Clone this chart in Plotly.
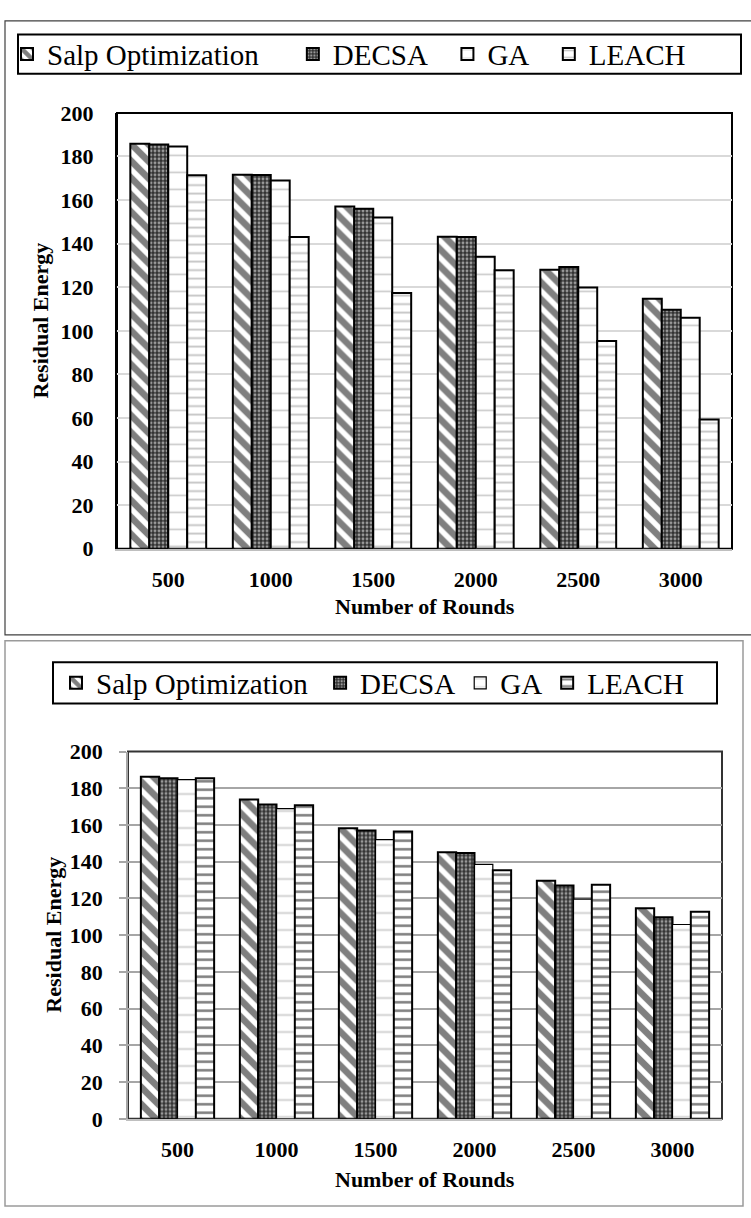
"""Residual energy vs. number of rounds: two grouped bar panels, stacked."""

import plotly.graph_objects as go

ROUNDS = ["500", "1000", "1500", "2000", "2500", "3000"]
SERIES_NAMES = ["Salp Optimization", "DECSA", "GA", "LEACH"]

# upper panel
TOP_SALP = [185.8, 171.6, 157.0, 143.2, 128.0, 114.7]
TOP_DECSA = [185.5, 171.5, 156.0, 143.0, 129.3, 109.7]
TOP_GA = [184.6, 169.0, 152.0, 134.0, 119.9, 106.0]
TOP_LEACH = [171.4, 143.0, 117.4, 127.8, 95.3, 59.3]

# lower panel
BOT_SALP = [186.3, 173.9, 158.2, 145.2, 129.6, 114.7]
BOT_DECSA = [185.4, 171.2, 157.0, 144.7, 127.1, 109.7]
BOT_GA = [184.7, 168.9, 152.0, 138.5, 119.6, 105.8]
BOT_LEACH = [185.4, 170.8, 156.4, 135.3, 127.5, 112.7]

Y_TICKS = [0, 20, 40, 60, 80, 100, 120, 140, 160, 180, 200]

W, H = 751, 1218
SERIF = "Liberation Serif, Times New Roman, serif"
NB = "\u00a0"


def px_x(v):
    return v / W


def px_y(v):
    return 1 - v / H


def patterns(lower):
    return [
        dict(shape="\\", fgcolor="black", bgcolor="white", size=12, solidity=0.55),
        dict(shape=".", fgcolor="white", bgcolor="#333333", size=4, solidity=0.42),
        dict(shape="-", fgcolor="#9a9a9a", bgcolor="white", size=17, solidity=0.1),
        dict(
            shape="-",
            fgcolor="black" if lower else "#8c8c8c",
            bgcolor="white",
            size=8.5,
            solidity=0.3 if lower else 0.22,
        ),
    ]


# legend labels padded so the entries sit where the original ones do
TOP_LABELS = ["Salp Optimization" + NB * 4, "DECSA" + NB * 2, "GA" + NB * 2, "LEACH"]
BOT_LABELS = ["Salp Optimization" + NB, "DECSA", "GA", "LEACH"]

fig = go.Figure()

panels = [
    ("x", "y", "legend", TOP_LABELS, [TOP_SALP, TOP_DECSA, TOP_GA, TOP_LEACH], False),
    ("x2", "y2", "legend2", BOT_LABELS, [BOT_SALP, BOT_DECSA, BOT_GA, BOT_LEACH], True),
]
for xa, ya, leg, labels, values, lower in panels:
    pats = patterns(lower)
    for i, (name, vals) in enumerate(zip(labels, values)):
        fig.add_trace(
            go.Bar(
                x=ROUNDS,
                y=vals,
                name=name,
                xaxis=xa,
                yaxis=ya,
                legend=leg,
                hovertemplate=SERIES_NAMES[i] + "<br>%{x}: %{y:.1f}<extra></extra>",
                marker=dict(
                    color="white",
                    pattern=pats[i],
                    line=dict(color="black", width=1.2 if (lower and i == 2) else 2),
                ),
            )
        )

tick_font = dict(family=SERIF, size=22, color="black", weight="bold")
title_font = dict(family=SERIF, size=22, color="black", weight="bold")

common_y = dict(
    range=[0, 200],
    tickvals=Y_TICKS,
    showgrid=True,
    gridwidth=1.5,
    zeroline=False,
    tickfont=tick_font,
    fixedrange=True,
)
common_x = dict(
    type="category",
    showgrid=False,
    showline=True,
    linecolor="#bfbfbf",
    linewidth=2,
    tickfont=tick_font,
    ticks="",
    ticklabelstandoff=10,
    fixedrange=True,
)
legend_common = dict(
    orientation="h",
    xanchor="left",
    yanchor="middle",
    font=dict(family=SERIF, size=29, color="black"),
    bgcolor="rgba(0,0,0,0)",
    borderwidth=0,
)

fig.update_layout(
    width=W,
    height=H,
    margin=dict(l=0, r=0, t=0, b=0),
    paper_bgcolor="white",
    plot_bgcolor="white",
    barmode="group",
    bargap=0.26,
    bargroupgap=0,
    font=dict(family=SERIF, color="black"),
    xaxis=dict(common_x, domain=[px_x(117), px_x(732)], anchor="y"),
    yaxis=dict(
        common_y,
        domain=[px_y(548), px_y(103)],
        anchor="x",
        gridcolor="#d9d9d9",
        showline=True,
        linecolor="black",
        linewidth=2,
        ticks="",
        ticklabelstandoff=17,
    ),
    xaxis2=dict(common_x, domain=[px_x(128), px_x(722)], anchor="y2"),
    yaxis2=dict(
        common_y,
        domain=[px_y(1130), px_y(755)],
        anchor="x2",
        gridcolor="#a6a6a6",
        showline=True,
        linecolor="#a6a6a6",
        linewidth=1.5,
        ticks="outside",
        ticklen=7,
        tickwidth=1.5,
        tickcolor="#a6a6a6",
        ticklabelstandoff=12,
    ),
    legend=dict(legend_common, x=px_x(7), y=px_y(43)),
    legend2=dict(legend_common, x=px_x(56), y=px_y(685)),
    showlegend=True,
)

# panel frames and legend boxes (paper pixels)
frames = [
    dict(x0=5, y0=9, x1=752, y1=636, color="#404040", width=1.2),
    dict(x0=5, y0=642, x1=743, y1=1219, color="#9a9a9a", width=1.5),
    dict(x0=18, y0=23, x1=741, y1=63, color="black", width=2),
    dict(x0=53, y0=664, x1=717, y1=706, color="black", width=2),
]
for f in frames:
    fig.add_shape(
        type="rect",
        xref="paper",
        yref="paper",
        x0=px_x(f["x0"]),
        x1=px_x(f["x1"]),
        y0=px_y(f["y0"]),
        y1=px_y(f["y1"]),
        line=dict(color=f["color"], width=f["width"]),
        fillcolor="rgba(0,0,0,0)",
        layer="below",
    )

# plot-area borders
for xa, col in (("x", "black"), ("x2", "#333333")):
    fig.add_shape(
        type="rect",
        xref=f"{xa} domain",
        yref=f"{xa.replace('x', 'y')} domain",
        x0=0,
        x1=1,
        y0=0,
        y1=1,
        line=dict(color=col, width=2),
        layer="below",
    )

# axis titles
titles = [
    dict(text="Number of Rounds", x=(117 + 732) / 2, y=607, angle=0),
    dict(text="Residual Energy", x=41, y=315, angle=-90),
    dict(text="Number of Rounds", x=(128 + 722) / 2, y=1192, angle=0),
    dict(text="Residual Energy", x=54, y=942, angle=-90),
]
for t in titles:
    fig.add_annotation(
        text=t["text"],
        xref="paper",
        yref="paper",
        x=px_x(t["x"]),
        y=px_y(t["y"]),
        xanchor="center",
        yanchor="middle",
        textangle=t["angle"],
        showarrow=False,
        font=title_font,
    )

# drop the browser's default body margin so paper pixels match the window
fig.write_html(
    "out.html",
    config={"displayModeBar": False},
    post_script="document.body.style.margin='0';",
)
